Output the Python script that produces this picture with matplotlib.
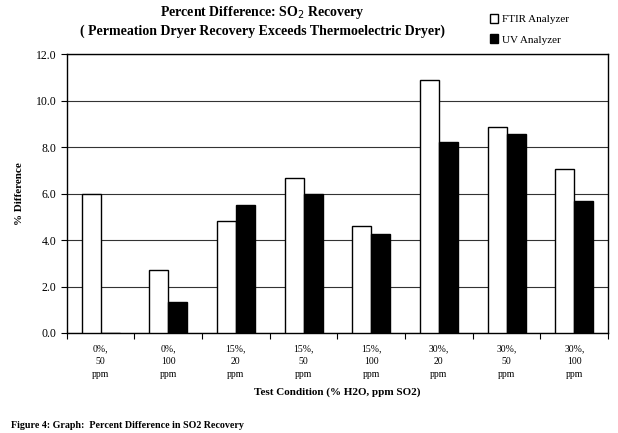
import numpy as np
import matplotlib.pyplot as plt

plt.rcParams['font.family'] = ['Liberation Serif', 'DejaVu Serif']

conditions = ["0%,\n50\nppm", "0%,\n100\nppm", "15%,\n20\nppm", "15%,\n50\nppm",
              "15%,\n100\nppm", "30%,\n20\nppm", "30%,\n50\nppm", "30%,\n100\nppm"]
ftir = [6.0, 2.7, 4.8, 6.65, 4.6, 10.87, 8.85, 7.04]
uv = [0.0, 1.35, 5.5, 6.0, 4.28, 8.22, 8.57, 5.67]

fig = plt.figure(figsize=(6.18, 4.33), dpi=100)
ax = fig.add_axes([0.108, 0.231, 0.876, 0.644])

x = np.arange(len(conditions))
w = 0.28
ax.bar(x - w / 2, ftir, w, color="white", edgecolor="black", linewidth=1.0,
       label="FTIR Analyzer", zorder=3)
ax.bar(x + w / 2, uv, w, color="black", edgecolor="black", linewidth=1.0,
       label="UV Analyzer", zorder=3)

ax.set_xlim(-0.5, len(conditions) - 0.5)
ax.set_ylim(0, 12)
ax.set_yticks(np.arange(0, 12.1, 2))
ax.set_yticklabels([f"{v:.1f}" for v in np.arange(0, 12.1, 2)], fontsize=8.5)
ax.yaxis.grid(True, color="#333333", linewidth=0.8, zorder=0)

# category boundary ticks, labels in the middle
ax.set_xticks(np.arange(-0.5, len(conditions), 1))
ax.set_xticklabels([])
ax.set_xticks(x, minor=True)
ax.set_xticklabels(conditions, minor=True, fontsize=7, linespacing=1.55)
ax.tick_params(axis="x", which="minor", length=0, pad=8)
ax.tick_params(axis="x", which="major", length=4, direction="out")
ax.tick_params(axis="y", length=4, direction="out")

for s in ax.spines.values():
    s.set_linewidth(1.0)

ax.set_ylabel("% Difference", fontsize=8, fontweight="bold", labelpad=8)
ax.set_xlabel("Test Condition (% H2O, ppm SO2)", fontsize=8, fontweight="bold",
              labelpad=6)

fig.text(0.424, 0.97, "Percent Difference: SO$_2$ Recovery", ha="center",
         va="center", fontsize=10, fontweight="bold")
fig.text(0.424, 0.928, "( Permeation Dryer Recovery Exceeds Thermoelectric Dryer)",
         ha="center", va="center", fontsize=10, fontweight="bold")

fig.legend(loc="upper left", bbox_to_anchor=(0.776, 0.99), frameon=False,
           fontsize=8, handlelength=0.8, handleheight=0.8, handletextpad=0.3,
           labelspacing=0.9)

fig.text(0.018, 0.012, "Figure 4: Graph:  Percent Difference in SO2 Recovery",
         fontsize=7.2, fontweight="bold")

fig.savefig("out.png", dpi=100)
